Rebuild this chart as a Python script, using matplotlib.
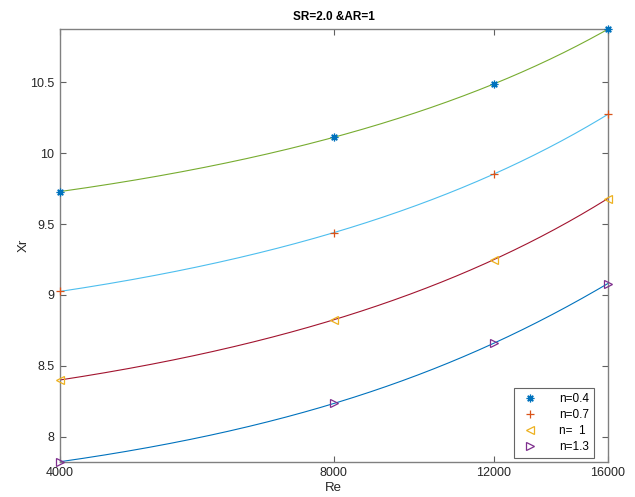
import numpy as np
import matplotlib
matplotlib.use("Agg")
from matplotlib import pyplot as plt
from matplotlib.ticker import FixedLocator, FuncFormatter, NullLocator

plt.rcParams['font.family'] = ['Liberation Sans', 'DejaVu Sans']

# Reattachment length Xr against Reynolds number for each power-law index n
Re = np.array([4000, 8000, 12000, 16000])
xr_n04 = np.array([9.73, 10.113, 10.49, 10.875])
xr_n07 = np.array([9.025, 9.44, 9.854, 10.274])
xr_n10 = np.array([8.40, 8.825, 9.25, 9.68])
xr_n13 = np.array([7.823, 8.234, 8.66, 9.08])
labels = ['n=0.4', 'n=0.7', 'n=  1', 'n=1.3']

series = [xr_n04, xr_n07, xr_n10, xr_n13]
markers = [(8, 2, 0), '+', '<', '>']
mcolors = ['#0072BD', '#D95319', '#EDB120', '#7E2F8E']
lcolors = ['#77AC30', '#4DBEEE', '#A2142F', '#0072BD']

fig = plt.figure(figsize=(6.35, 4.97), dpi=100)
ax = fig.add_axes([0.0945, 0.071, 0.8625, 0.870])
ax.set_xscale('log')

# smooth spline-like curve through the computed points
xs = np.linspace(Re[0], Re[-1], 300)
for y, c in zip(series, lcolors):
    p = np.polyfit(Re, y, 3)
    ax.plot(xs, np.polyval(p, xs), color=c, linewidth=0.8, zorder=2)

# markers at the computed points
for y, m, c, lab in zip(series, markers, mcolors, labels):
    ax.plot(Re, y, linestyle='none', marker=m, color=c, markersize=5.5,
            markerfacecolor='none', markeredgewidth=0.9,
            label=lab, clip_on=False, zorder=3)

ax.set_xlim(Re[0], Re[-1])
ax.set_ylim(xr_n13.min(), xr_n04.max())
ax.xaxis.set_major_locator(FixedLocator(Re))
ax.xaxis.set_minor_locator(NullLocator())
ax.xaxis.set_major_formatter(FuncFormatter(lambda v, p: '%d' % v))
ax.set_yticks([8, 8.5, 9, 9.5, 10, 10.5])
ax.yaxis.set_major_formatter(FuncFormatter(lambda v, p: '%g' % v))

for s in ax.spines.values():
    s.set_color('#808080')
    s.set_linewidth(1.0)
ax.tick_params(which='both', direction='in', top=True, right=True,
               length=4, width=0.8, color='#606060', labelsize=9,
               labelcolor='#262626', pad=4)

ax.set_title('SR=2.0 &AR=1', fontsize=8.5, fontweight='bold', pad=7)
ax.set_xlabel('Re', fontsize=9.5, color='#262626', labelpad=2)
ax.set_ylabel('Xr', fontsize=9.5, color='#262626', labelpad=0)

leg = ax.legend(loc='lower right', fontsize=8.5, frameon=True, fancybox=False,
                edgecolor='#404040', handlelength=1.8, markerfirst=True,
                borderpad=0.4, labelspacing=0.35, handletextpad=1.6,
                borderaxespad=0, bbox_to_anchor=(0.975, 0.009))
leg.get_frame().set_linewidth(0.8)

fig.savefig('out.png', dpi=100)
